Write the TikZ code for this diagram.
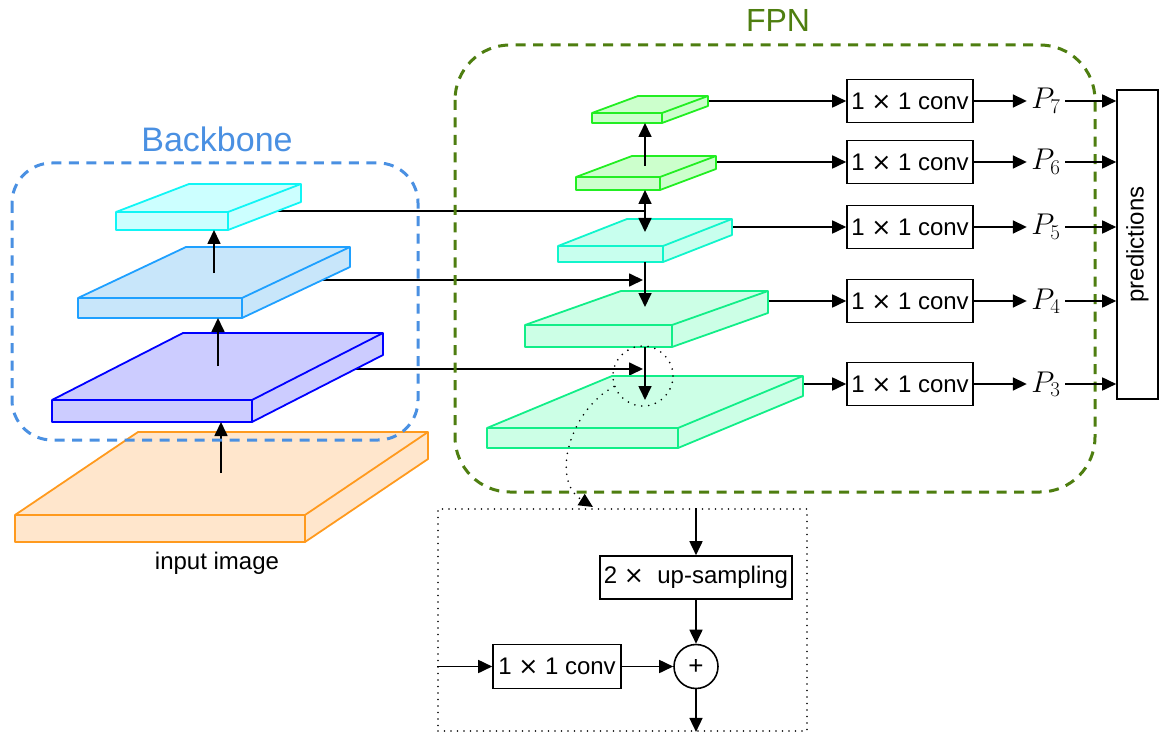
\RequirePackage{fix-cm}
\documentclass[tikz,border=0pt]{standalone}
\usepackage{fontspec}
\setmainfont{Liberation Sans}
\newfontfamily\dvs{DejaVu Sans}
\usetikzlibrary{arrows.meta}
\definecolor{bbblue}{HTML}{4A90E2}
\definecolor{fpngreen}{HTML}{4E7E10}
\definecolor{inS}{HTML}{FF9A1E}\definecolor{inF}{HTML}{FFE6CC}
\definecolor{cthreeS}{HTML}{0000FF}\definecolor{cthreeF}{HTML}{CCCCFF}
\definecolor{cfourS}{HTML}{1EA0FF}\definecolor{cfourF}{HTML}{C8E6FA}
\definecolor{cfiveS}{HTML}{11F5F5}\definecolor{cfiveF}{HTML}{CCFFFF}
\definecolor{gS}{HTML}{22EE22}\definecolor{gF}{HTML}{CCFFCC}
\definecolor{pfiveS}{HTML}{11F5CC}\definecolor{pfiveF}{HTML}{C8FFEE}
\definecolor{plowS}{HTML}{11EE88}\definecolor{plowF}{HTML}{CCFFE6}
\tikzset{
  layer/.style 2 args={draw=#1, fill=#2, line width=1.8pt, line join=round},
  plainline/.style={line width=1.7pt},
  conn/.style={line width=1.7pt, -{Triangle[length=14pt,width=13pt]}},
  txt/.style={font=\fontsize{24}{29}\selectfont},
  opbox/.style={draw, line width=1.6pt, txt, minimum height=43pt, inner sep=0pt},
  convbox/.style={opbox, minimum width=126pt},
  plabel/.style={font=\fontsize{30}{36}\selectfont, minimum width=38pt, inner sep=0pt},
  dots/.style={line width=1.8pt, line cap=round, dash pattern=on 0pt off 6.5pt},
  groupbox/.style={line width=3pt, dash pattern=on 10pt off 7.5pt}
}
% #1 name, #2 x, #3 y (front top-left), #4 width, #5 thickness, #6 depth dx, #7 depth dy (up), #8 style
\newcommand{\layerbox}[8]{%
  \coordinate (#1-ftl) at (#2,#3);
  \coordinate (#1-ftr) at ({#2+#4},#3);
  \coordinate (#1-fbl) at (#2,{#3+#5});
  \coordinate (#1-fbr) at ({#2+#4},{#3+#5});
  \coordinate (#1-btl) at ({#2+#6},{#3-#7});
  \coordinate (#1-btr) at ({#2+#4+#6},{#3-#7});
  \coordinate (#1-bbr) at ({#2+#4+#6},{#3+#5-#7});
  \filldraw[#8] (#1-ftl) -- (#1-btl) -- (#1-btr) -- (#1-bbr) -- (#1-fbr) -- (#1-fbl) -- cycle;
  \draw[#8, fill=none] (#1-ftl) -- (#1-ftr) -- (#1-btr) (#1-ftr) -- (#1-fbr);
}
\newcommand{\tms}{{\dvs ×}}
\newcommand{\conv}{1 \tms{} 1 conv}
\begin{document}
\begin{tikzpicture}[x=1pt,y=-1pt]
\useasboundingbox (0,0) rectangle (1161,735);

% ---- conv boxes ----
\node[convbox] (cv7) at (910,101) {\conv};
\node[convbox] (cv6) at (910,162) {\conv};
\node[convbox] (cv5) at (910,227) {\conv};
\node[convbox] (cv4) at (910,301) {\conv};
\node[convbox] (cv3) at (910,384) {\conv};

% ---- connection points hidden behind layers ----
\coordinate (c5o) at (250,211);
\coordinate (j5) at (645,211);
\coordinate (c4o) at (300,280);
\coordinate (j4) at (643,280);
\coordinate (c3o) at (330,369);
\coordinate (j3) at (643,369);
\coordinate (p7o) at (660,101);
\coordinate (p6o) at (660,162);
\coordinate (p5o) at (680,227);
\coordinate (p4o) at (700,301);
\coordinate (p3o) at (720,384);

\draw[plainline] (c5o) -- (j5);
\draw[conn] (c4o) -- (j4);
\draw[conn] (c3o) -- (j3);
\draw[conn] (p7o) -- (cv7.west);
\draw[conn] (p6o) -- (cv6.west);
\draw[conn] (p5o) -- (cv5.west);
\draw[conn] (p4o) -- (cv4.west);
\draw[conn] (p3o) -- (cv3.west);

% ---- layers ----
\layerbox{in}{15}{515}{290}{27}{123}{83}{layer={inS}{inF}}
\layerbox{cthree}{52}{400}{200}{22}{131}{67}{layer={cthreeS}{cthreeF}}
\layerbox{cfour}{78}{298}{164}{20}{108}{51}{layer={cfourS}{cfourF}}
\layerbox{cfive}{116}{212}{112}{18}{73}{28}{layer={cfiveS}{cfiveF}}

\layerbox{pseven}{592}{113}{70}{10}{46}{17}{layer={gS}{gF}}
\layerbox{psix}{576}{177}{84}{13}{56}{21}{layer={gS}{gF}}
\layerbox{pfive}{558}{246}{105}{16}{69}{27}{layer={pfiveS}{pfiveF}}
\layerbox{pfour}{525}{325}{147}{22}{96}{34}{layer={plowS}{plowF}}
\layerbox{pthree}{487}{428}{191}{20}{125}{52}{layer={plowS}{plowF}}

% ---- vertical arrows ----
\coordinate (inU) at (221,473);   \coordinate (cthreeD) at (221,422);
\coordinate (cthreeU) at (218,366); \coordinate (cfourD) at (218,318);
\coordinate (cfourU) at (214,273);  \coordinate (cfiveD) at (214,230);
\draw[conn] (inU) -- (cthreeD);
\draw[conn] (cthreeU) -- (cfourD);
\draw[conn] (cfourU) -- (cfiveD);

\coordinate (psixU) at (645,166);  \coordinate (psevenD) at (645,123);
\coordinate (psixD) at (645,190);  \coordinate (pfiveT) at (645,232);
\coordinate (pfiveB) at (645,262); \coordinate (pfourT) at (645,307);
\coordinate (pfourB) at (645,347); \coordinate (pthreeT) at (645,400);
\draw[conn] (psixU) -- (psevenD);
\draw[conn] (j5) -- (psixD);
\draw[conn] (j5) -- (pfiveT);
\draw[conn] (pfiveB) -- (pfourT);
\draw[conn] (pfourB) -- (pthreeT);

% ---- group boxes ----
\draw[groupbox, draw=bbblue, rounded corners=40pt] (12,163) rectangle (418,440);
\node[font=\fontsize{34}{40}\selectfont, text=bbblue] (bblabel) at (217,139) {Backbone};
\draw[groupbox, draw=fpngreen, rounded corners=55pt] (455,45) rectangle (1095,492);
\node[font=\fontsize{32}{38}\selectfont, text=fpngreen] (fpnlabel) at (778,20) {FPN};

\node[txt] (inlabel) at (217,563) {input image};

% ---- outputs ----
\node[plabel] (P7) at (1046,101) {$P_7$};
\node[plabel] (P6) at (1046,162) {$P_6$};
\node[plabel] (P5) at (1046,227) {$P_5$};
\node[plabel] (P4) at (1046,301) {$P_4$};
\node[plabel] (P3) at (1046,384) {$P_3$};
\node[draw, line width=1.6pt, txt, rotate=90, minimum width=309pt, minimum height=41pt, inner sep=0pt] (pred) at (1137.5,244.5) {predictions};

\draw[conn] (cv7.east) -- (P7.west);
\draw[conn] (cv6.east) -- (P6.west);
\draw[conn] (cv5.east) -- (P5.west);
\draw[conn] (cv4.east) -- (P4.west);
\draw[conn] (cv3.east) -- (P3.west);
\draw[conn] (P7.east) -- (P7.east -| pred.north);
\draw[conn] (P6.east) -- (P6.east -| pred.north);
\draw[conn] (P5.east) -- (P5.east -| pred.north);
\draw[conn] (P4.east) -- (P4.east -| pred.north);
\draw[conn] (P3.east) -- (P3.east -| pred.north);

% ---- detail ----
\node[dots, draw, minimum width=369pt, minimum height=222pt, inner sep=0pt] (detail) at (622.5,620) {};
\node[opbox, minimum width=192pt] (up) at (696,577.5) {2 \tms\ \ up-sampling};
\node[convbox, minimum width=128pt, minimum height=44pt] (conv) at (557,666.5) {\conv};
\node[draw, circle, line width=1.6pt, minimum size=44pt, inner sep=0pt, font=\fontsize{26}{30}\selectfont] (plus) at (696,666.5) {+};
\draw[conn] (up.north |- detail.north) -- (up.north);
\draw[conn] (up.south) -- (plus.north);
\draw[conn] (detail.west |- conv) -- (conv.west);
\draw[conn] (conv.east) -- (plus.west);
\draw[conn] (plus.south) -- (plus.south |- detail.south);

\node[draw, circle, dots, dash pattern=on 0pt off 7pt, minimum size=60pt, inner sep=0pt] (focus) at (643,376) {};
\coordinate (dtip) at (593,507);
\draw[dots, dash pattern=on 0pt off 7pt, -{Triangle[length=14pt,width=13pt]}] (focus.200) .. controls (570,410) and (550,480) .. (dtip);
\end{tikzpicture}
\end{document}
